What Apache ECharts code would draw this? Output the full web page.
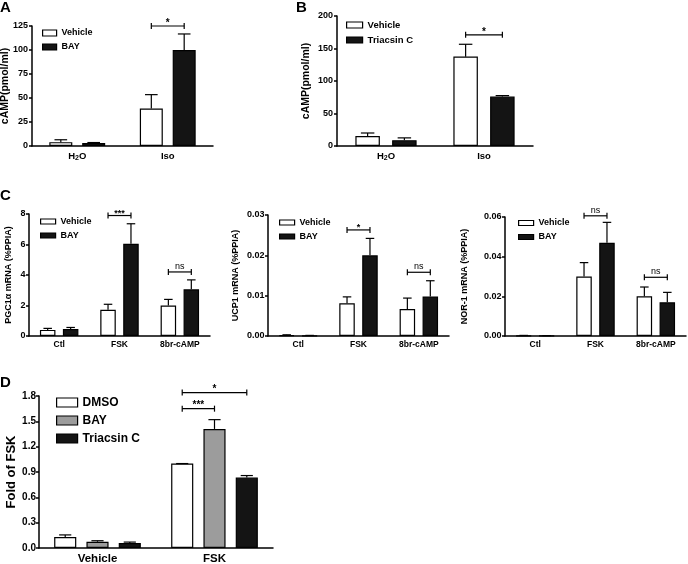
<!DOCTYPE html>
<html><head><meta charset="utf-8">
<script src="https://cdn.jsdelivr.net/npm/echarts@6.0.0/dist/echarts.min.js"></script>
<style>html,body{margin:0;padding:0;background:#fff}#c{width:688px;height:564px}</style>
</head><body><div id="c"></div>
<script>
// ---------- Panel A ----------
const catA = ['H2O', 'Iso'];
const aVehicle = [4, 39];
const aVehicleSem = [2.5, 14.5];
const aBay = [3, 100];
const aBaySem = [0.6, 16.7];
const aTicks = [0, 25, 50, 75, 100, 125];
const aBrackets = [[1, 0, 1, 125, '*']];

// ---------- Panel B ----------
const catB = ['H2O', 'Iso'];
const bVehicle = [15.5, 137.5];
const bVehicleSem = [4.5, 19];
const bTriacsin = [9, 76];
const bTriacsinSem = [3.5, 1.5];
const bTicks = [0, 50, 100, 150, 200];
const bBrackets = [[1, 0, 1, 171, '*']];

// ---------- Panel C ----------
const catC = ['Ctl', 'FSK', '8br-cAMP'];
const pgcVehicle = [0.4, 1.72, 2.0];
const pgcVehicleSem = [0.1, 0.36, 0.4];
const pgcBay = [0.46, 6.05, 3.06];
const pgcBaySem = [0.1, 1.31, 0.62];
const pgcTicks = [0, 2, 4, 6, 8];
const pgcBrackets = [[1, 0, 1, 7.9, '***'], [2, 0, 1, 4.2, 'ns']];

const ucpVehicle = [0.0002, 0.0081, 0.0067];
const ucpVehicleSem = [0.0001, 0.0016, 0.0027];
const ucpBay = [0.0001, 0.0200, 0.0098];
const ucpBaySem = [0.00005, 0.0042, 0.0039];
const ucpTicks = [0, 0.01, 0.02, 0.03];
const ucpBrackets = [[1, 0, 1, 0.0263, '*'], [2, 0, 1, 0.0158, 'ns']];

const norVehicle = [0.0002, 0.030, 0.020];
const norVehicleSem = [0.0001, 0.007, 0.0047];
const norBay = [0.0001, 0.047, 0.017];
const norBaySem = [0.0001, 0.0103, 0.005];
const norTicks = [0, 0.02, 0.04, 0.06];
const norBrackets = [[1, 0, 1, 0.0606, 'ns'], [2, 0, 1, 0.0296, 'ns']];

// ---------- Panel D ----------
const catD = ['Vehicle', 'FSK'];
const dDmso = [0.13, 1.0];
const dDmsoSem = [0.025, 0];
const dBay = [0.074, 1.41];
const dBaySem = [0.012, 0.11];
const dTriacsin = [0.059, 0.834];
const dTriacsinSem = [0.011, 0.024];
const dTicks = [0, 0.3, 0.6, 0.9, 1.2, 1.5, 1.8];
const dBrackets = [[1, 0, 2, 1.84, '*'], [1, 0, 1, 1.65, '***']];

const FONT = 'Liberation Sans, Arial, sans-serif';
const WHITE = '#ffffff', BLACK = '#141414', GRAY = '#9c9c9c';

function barX(api, cat, val, k, g) {
  const c = api.coord([cat, val]);
  const bw = api.size([1, 0])[0];
  const barW = bw * g.w;
  const total = g.n * barW + (g.n - 1) * g.gap * barW;
  return [c[0] - total / 2 + k * barW * (1 + g.gap) + barW / 2, c[1], barW];
}
function errRender(g, k) {
  return function (params, api) {
    const cat = api.value(0), v = api.value(1), s = api.value(2);
    const p = barX(api, cat, v, k, g);
    const top = api.coord([cat, v + s])[1];
    const cap = p[2] * 0.55;
    const st = { stroke: '#000', lineWidth: 1.2 };
    return { type: 'group', children: [
      { type: 'line', shape: { x1: p[0], y1: p[1], x2: p[0], y2: top }, style: st },
      { type: 'line', shape: { x1: p[0] - cap / 2, y1: top, x2: p[0] + cap / 2, y2: top }, style: st }
    ] };
  };
}
function brRender(g, list, fs) {
  return function (params, api) {
    const b = list[params.dataIndex];
    const p1 = barX(api, b[0], b[3], b[1], g), p2 = barX(api, b[0], b[3], b[2], g);
    const y = p1[1];
    const st = { stroke: '#000', lineWidth: 1.2 };
    const isStar = b[4] !== 'ns';
    return { type: 'group', children: [
      { type: 'line', shape: { x1: p1[0], y1: y, x2: p2[0], y2: y }, style: st },
      { type: 'line', shape: { x1: p1[0], y1: y - 3, x2: p1[0], y2: y + 3 }, style: st },
      { type: 'line', shape: { x1: p2[0], y1: y - 3, x2: p2[0], y2: y + 3 }, style: st },
      { type: 'text', style: { text: b[4], x: (p1[0] + p2[0]) / 2, y: isStar ? y + 2 : y - 1, align: 'center', verticalAlign: 'bottom',
        font: (isStar ? 'bold ' : '') + fs + 'px ' + FONT, fill: '#000' } }
    ] };
  };
}

const grids = [
  { left: 32, top: 26, width: 181, height: 120 },
  { left: 337, top: 16, width: 196, height: 130 },
  { left: 29, top: 214, width: 181, height: 122 },
  { left: 268, top: 215, width: 181, height: 121 },
  { left: 505, top: 217, width: 181, height: 119 },
  { left: 39, top: 396, width: 234, height: 152 }
].map(g => Object.assign({ outerBoundsMode: 'none', containLabel: false }, g));

const axisLineStyle = { color: '#000', width: 1.5 };
function xAx(i, cats, fs, margin, rich) {
  const lab = { color: '#000', fontWeight: 'bold', fontSize: fs, fontFamily: FONT, margin: margin };
  if (rich) {
    lab.formatter = v => v === 'H2O' ? '{n|H}{s|2}{n|O}' : '{n|' + v + '}';
    lab.rich = {
      n: { fontSize: fs, fontWeight: 'bold', fontFamily: FONT, color: '#000', lineHeight: 14, verticalAlign: 'top' },
      s: { fontSize: fs - 2.5, fontWeight: 'bold', fontFamily: FONT, color: '#000', lineHeight: 14, verticalAlign: 'top', padding: [4, 0, 0, 0] }
    };
  }
  return { type: 'category', gridIndex: i, data: cats,
    axisLine: { lineStyle: axisLineStyle },
    axisTick: { alignWithLabel: true, length: 3, lineStyle: axisLineStyle },
    axisLabel: lab, splitLine: { show: false } };
}
function yAx(i, ticks, fs, margin, digits, name, nameFs, nameGap) {
  return { type: 'value', gridIndex: i, min: ticks[0], max: ticks[ticks.length - 1],
    interval: +(ticks[1] - ticks[0]).toFixed(6),
    axisLine: { show: true, lineStyle: axisLineStyle },
    axisTick: { show: true, length: 3, lineStyle: axisLineStyle },
    splitLine: { show: false },
    axisLabel: { color: '#000', fontWeight: 'bold', fontSize: fs, fontFamily: FONT, margin: margin,
      formatter: v => digits === 0 ? String(Math.round(v)) : (+v).toFixed(digits) },
    name: name, nameLocation: 'middle', nameRotate: 90, nameGap: nameGap, nameMoveOverlap: false,
    nameTextStyle: { color: '#000', fontWeight: 'bold', fontSize: nameFs, fontFamily: FONT } };
}

const geomA = { n: 2, w: 0.254, gap: 0.43 };
const geomB = { n: 2, w: 0.25, gap: 0.5 };
const geomC = { n: 2, w: 0.257, gap: 0.48 };
const geomD = { n: 3, w: 0.189, gap: 0.46 };

const series = [];
function addPanel(i, geom, groups, brackets, brFs) {
  groups.forEach((gr, k) => {
    series.push({ type: 'bar', name: gr.name, xAxisIndex: i, yAxisIndex: i, data: gr.vals,
      barWidth: (geom.w * 100).toFixed(1) + '%', barGap: (geom.gap * 100).toFixed(0) + '%',
      itemStyle: { color: gr.color, borderColor: '#000', borderWidth: 1.2 }, silent: true, z: 2 });
  });
  groups.forEach((gr, k) => {
    series.push({ type: 'custom', name: gr.name + '_err', xAxisIndex: i, yAxisIndex: i,
      data: gr.vals.map((v, j) => [j, v, gr.sem[j]]), encode: { x: 0, y: 1 },
      renderItem: errRender(geom, k), silent: true, z: 3 });
  });
  series.push({ type: 'custom', name: 'br' + i, xAxisIndex: i, yAxisIndex: i, clip: false,
    data: brackets.map(b => [b[0], b[3]]), encode: { x: 0, y: 1 },
    renderItem: brRender(geom, brackets, brFs), silent: true, z: 4 });
}
addPanel(0, geomA, [
  { name: 'Vehicle', vals: aVehicle, sem: aVehicleSem, color: WHITE },
  { name: 'BAY', vals: aBay, sem: aBaySem, color: BLACK }], aBrackets, 10);
addPanel(1, geomB, [
  { name: 'Vehicle', vals: bVehicle, sem: bVehicleSem, color: WHITE },
  { name: 'Triacsin C', vals: bTriacsin, sem: bTriacsinSem, color: BLACK }], bBrackets, 10);
addPanel(2, geomC, [
  { name: 'Vehicle', vals: pgcVehicle, sem: pgcVehicleSem, color: WHITE },
  { name: 'BAY', vals: pgcBay, sem: pgcBaySem, color: BLACK }], pgcBrackets, 9);
addPanel(3, geomC, [
  { name: 'Vehicle', vals: ucpVehicle, sem: ucpVehicleSem, color: WHITE },
  { name: 'BAY', vals: ucpBay, sem: ucpBaySem, color: BLACK }], ucpBrackets, 9);
addPanel(4, geomC, [
  { name: 'Vehicle', vals: norVehicle, sem: norVehicleSem, color: WHITE },
  { name: 'BAY', vals: norBay, sem: norBaySem, color: BLACK }], norBrackets, 9);
addPanel(5, geomD, [
  { name: 'DMSO', vals: dDmso, sem: dDmsoSem, color: WHITE },
  { name: 'BAY', vals: dBay, sem: dBaySem, color: GRAY },
  { name: 'Triacsin C', vals: dTriacsin, sem: dTriacsinSem, color: BLACK }], dBrackets, 10);

function leg(left, top, items, iw, ih, fs, lh, gap) {
  return { show: true, orient: 'vertical', left: left, top: top, padding: 0, itemGap: gap,
    itemWidth: iw, itemHeight: ih, icon: 'rect', selectedMode: false,
    textStyle: { color: '#000', fontWeight: 'bold', fontSize: fs, fontFamily: FONT, lineHeight: lh },
    data: items.map(it => ({ name: it[0], icon: 'rect',
      itemStyle: { color: it[1], borderColor: '#000', borderWidth: 1.2 } })) };
}

const option = {
  animation: false,
  backgroundColor: '#fff',
  title: [
    { text: 'A', left: 0, top: 0, padding: 0, textStyle: { fontSize: 15, fontWeight: 'bold', fontFamily: FONT, color: '#000' } },
    { text: 'B', left: 296, top: 0, padding: 0, textStyle: { fontSize: 15, fontWeight: 'bold', fontFamily: FONT, color: '#000' } },
    { text: 'C', left: 0, top: 188, padding: 0, textStyle: { fontSize: 15, fontWeight: 'bold', fontFamily: FONT, color: '#000' } },
    { text: 'D', left: 0, top: 375, padding: 0, textStyle: { fontSize: 15, fontWeight: 'bold', fontFamily: FONT, color: '#000' } }
  ],
  legend: [
    leg(42, 27, [['Vehicle', WHITE], ['BAY', BLACK]], 14, 6, 9, 12, 2),
    leg(346, 19, [['Vehicle', WHITE], ['Triacsin C', BLACK]], 16, 6, 9.5, 12, 3),
    leg(40, 215.5, [['Vehicle', WHITE], ['BAY', BLACK]], 15, 5, 9, 12, 2),
    leg(279, 216.5, [['Vehicle', WHITE], ['BAY', BLACK]], 15, 5, 9, 12, 2),
    leg(518, 217, [['Vehicle', WHITE], ['BAY', BLACK]], 15, 5, 9, 12, 2),
    leg(56, 395.5, [['DMSO', WHITE], ['BAY', GRAY], ['Triacsin C', BLACK]], 21, 9, 12, 14, 4)
  ],
  grid: grids,
  xAxis: [
    xAx(0, catA, 9.5, 5, true),
    xAx(1, catB, 9.5, 5, true),
    xAx(2, catC, 8.5, 4),
    xAx(3, catC, 8.5, 4),
    xAx(4, catC, 8.5, 4),
    xAx(5, catD, 11.5, 5)
  ],
  yAxis: [
    yAx(0, aTicks, 9, 4, 0, 'cAMP(pmol/ml)', 10.5, 21),
    yAx(1, bTicks, 9, 4, 0, 'cAMP(pmol/ml)', 10.5, 25),
    yAx(2, pgcTicks, 9, 3.5, 0, 'PGC1α mRNA (%PPIA)', 9, 15.5),
    yAx(3, ucpTicks, 9, 3.5, 2, 'UCP1 mRNA (%PPIA)', 9, 27.5),
    yAx(4, norTicks, 9, 3.5, 2, 'NOR-1 mRNA (%PPIA)', 9, 35.5),
    yAx(5, dTicks, 10, 3, 1, 'Fold of FSK', 13, 21)
  ],
  series: series
};
const chart = echarts.init(document.getElementById('c'), null, { renderer: 'canvas' });
chart.setOption(option);
</script>
</body></html>
